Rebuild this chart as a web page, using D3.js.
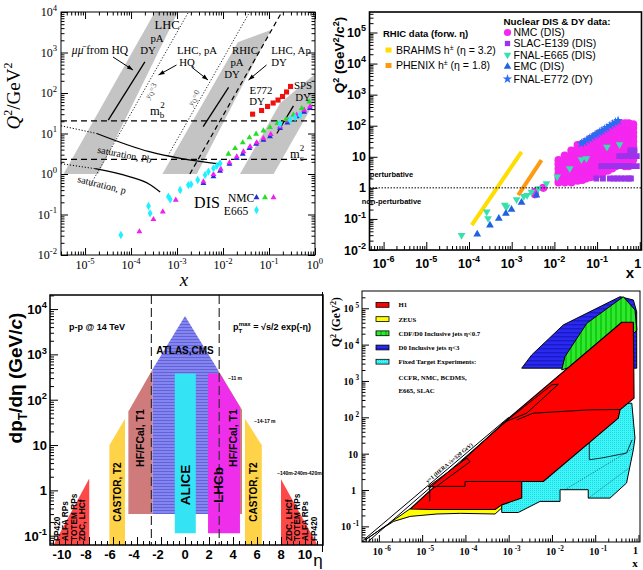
<!DOCTYPE html>
<html>
<head>
<meta charset="utf-8">
<script src="https://cdn.jsdelivr.net/npm/d3@7"></script>
<style>
  body { margin: 0; background: #fff; }
</style>
</head>
<body>
<div id="chart"></div>
<script>
// ---------- top-left: kinematic reach (x, Q2) ----------
const bandLHC = [[3.4e-6, 1], [1.95e-5, 1], [1.05e-3, 1e4], [3.3e-4, 1e4]];
const bandRHIC = [[4.8e-4, 1], [2.7e-3, 1], [0.11, 3600], [0.021, 1800]];
const bandSPS = [[0.0234, 1], [0.126, 1], [1.12, 80], [1.12, 330], [0.174, 56]];
const limitYQ3 = [[1.26e-5, 0.5], [1.78e-3, 1e4]];
const limitYQ0 = [[6.3e-4, 2.8], [0.038, 1e4]];
const limitApDY = [[1.9e-3, 1], [0.19, 1e4]];
const mb2 = 20.5, mc2 = 2.3;
const dyLHC = [[3.2e-5, 21.4], [2.0e-4, 590]];
const dyRHIC = [[3.7e-3, 14.8], [0.0132, 138]];
const dySPS = [[0.148, 10], [0.34, 48]];
const satPbDotted = [[3e-6, 15.5], [1.8e-5, 10]];
const satPb = [[1.8e-5, 10], [2.5e-4, 3.55], [1.26e-3, 2.4], [9e-3, 1.75]];
const satPDotted = [[3e-6, 1.8], [1.66e-5, 1.35]];
const satP = [[1.66e-5, 1.35], [9.5e-5, 0.85], [2.5e-4, 0.56], [4.3e-4, 0.36]];
const e772 = [[0.044, 30], [0.069, 37], [0.093, 46.5], [0.123, 56.6], [0.157, 67], [0.197, 82], [0.241, 106], [0.294, 145]];
const nmcBlue = [[0.00375, 0.589], [0.00619, 0.859], [0.00865, 1.19], [0.0138, 1.77], [0.0199, 2.44], [0.0269, 3.12], [0.0375, 4.31], [0.0524, 5.51], [0.0757, 6.92], [0.105, 8.36], [0.174, 13.4], [0.251, 18.5], [0.401, 26.1], [0.579, 34.0], [0.78, 41.8]];
const nmcMagenta = [[1.52e-4, 0.0377], [3.07e-4, 0.076], [4.9e-4, 0.117], [9.4e-4, 0.228], [0.00375, 0.647], [0.00619, 0.982], [0.00893, 1.33], [0.0138, 1.91], [0.0199, 2.68], [0.0278, 3.56], [0.0388, 4.73], [0.0542, 5.94], [0.0757, 7.6], [0.109, 9.53], [0.174, 14.8], [0.264, 20.7], [0.401, 28.6], [0.579, 38.0], [0.78, 46.0]];
const nmcGreen = [[0.0131, 3.12], [0.0183, 4.31], [0.0269, 5.94], [0.0375, 7.89], [0.0524, 9.73], [0.0757, 11.7], [0.105, 14.2], [0.152, 17.8], [0.235, 22.4], [0.34, 28.6], [0.515, 41.8], [0.75, 61]];
const e665Cyan = [[6.0e-5, 0.0312], [2.4e-4, 0.162], [2.6e-4, 0.107], [6.5e-4, 0.275], [7.1e-4, 0.237], [1.17e-3, 0.403], [1.77e-3, 0.535], [2.02e-3, 0.556], [2.82e-3, 0.711], [4.07e-3, 0.944], [4.82e-3, 1.14], [6.19e-3, 1.38], [7.31e-3, 1.58], [8.65e-3, 1.83], [0.174, 17.2], [0.287, 21.5], [0.369, 25.1], [0.474, 28.6]];

// ---------- top-right: nuclear DIS & DY data ----------
const brahmsLine = [[1.16e-4, 0.063], [1.7e-3, 14.4]];
const phenixLine = [[1.42e-3, 0.58], [4.99e-3, 7.8]];
const nmcX = [0.0035, 0.0055, 0.0125, 0.0175, 0.025, 0.035, 0.045, 0.055, 0.07, 0.09, 0.11, 0.14, 0.18, 0.225, 0.275, 0.35, 0.45, 0.55, 0.7];
const nmcQ2 = [
  [0.62, 0.75], [1.0],
  [1.5, 2.1, 2.9, 4.1, 5.7, 7.8],
  [1.5, 2.1, 2.9, 4.1, 5.7, 8, 11],
  [1.5, 2.1, 2.9, 4.1, 5.7, 8, 11, 16],
  [1.7, 2.4, 3.3, 4.6, 6.4, 9, 12.5, 17.5, 24],
  [1.8, 2.5, 3.5, 4.9, 6.8, 9.5, 13, 18.5, 26],
  [2.0, 2.8, 3.9, 5.5, 7.7, 11, 15, 21, 30],
  [2.2, 3.1, 4.3, 6, 8.4, 12, 16.5, 23, 32, 38],
  [2.5, 3.5, 4.9, 6.9, 9.6, 13.5, 19, 26, 37, 45],
  [2.8, 3.9, 5.5, 7.7, 11, 15, 21, 29, 41, 55],
  [3.2, 4.5, 6.3, 8.8, 12, 17, 24, 34, 47, 62],
  [3.6, 5, 7, 10, 14, 19.5, 27, 38, 53, 72],
  [4.2, 5.9, 8.2, 11.5, 16, 22, 31, 44, 62, 88],
  [5, 7, 9.8, 13.7, 19, 27, 38, 53, 74, 105],
  [6, 8.4, 11.8, 16.5, 23, 32, 45, 63, 88, 118],
  [5, 7, 10, 14, 20, 28, 39, 55, 77, 110, 120],
  [5, 7, 10, 14, 20, 28, 39, 55, 77, 110, 120],
  [8, 11, 16, 22, 31, 43, 60, 84, 110]
];
const e139 = [[0.096, 2], [0.137, 2], [0.2, 2], [0.25, 2], [0.3, 2], [0.37, 2], [0.45, 2], [0.55, 2], [0.62, 2],
  [0.125, 5], [0.15, 5], [0.18, 5], [0.22, 5], [0.27, 5], [0.33, 5], [0.4, 5], [0.48, 5], [0.58, 5], [0.7, 5], [0.85, 5],
  [0.33, 10.5], [0.4, 10.5], [0.48, 10.5], [0.58, 10.5], [0.7, 10.5], [0.85, 10.5], [0.6, 16], [0.75, 16]];
const e665 = [[6.7e-5, 0.030], [2.6e-4, 0.17], [2.8e-4, 0.104], [6.9e-4, 0.279], [7.6e-4, 0.245], [1.3e-3, 0.42], [1.92e-3, 0.54], [2.3e-3, 0.58], [2.9e-3, 0.74], [4.2e-3, 0.96], [6.5e-3, 1.39], [0.0116, 2.26], [0.0229, 4.2], [0.043, 8.2], [0.056, 8.8], [0.17, 20.8], [0.336, 24.9]];
const emc = [[1.56e-4, 0.032], [3.1e-4, 0.063], [5.0e-4, 0.104], [7.3e-4, 0.15], [9.9e-4, 0.20], [1.7e-3, 0.34], [3.8e-3, 0.58]];
const e772DY = [[0.043, 27], [0.05, 30], [0.058, 35], [0.067, 39], [0.077, 44], [0.089, 50], [0.1, 55], [0.115, 62], [0.13, 69], [0.15, 78], [0.17, 87], [0.2, 100], [0.23, 113], [0.27, 130], [0.31, 145]];

// ---------- bottom-left: LHC detector acceptance (eta, pT) ----------
const etaTicks = [-10, -8, -6, -4, -2, 0, 2, 4, 6, 8, 10];
const atlasCms = [[-2.7, 0.3], [-2.7, 470], [0, 7000], [2.75, 450], [2.75, 0.3]];
const hfLeft = [[-4.72, 0.3], [-4.72, 55], [-2.7, 470], [-2.7, 0.3]];
const hfRight = [[2.75, 0.3], [2.75, 450], [4.75, 60], [4.75, 0.3]];
const alice = [[-0.85, 0.113], [-0.85, 380], [0.9, 380], [0.9, 0.113]];
const lhcb = [[1.92, 0.113], [1.92, 380], [2.9, 380], [4.58, 68], [4.58, 0.113]];
const castorLeft = [[-6.3, 0.05], [-6.3, 9.9], [-5.0, 38], [-5.0, 0.05]];
const castorRight = [[5.0, 0.05], [5.0, 38], [6.4, 9.9], [6.4, 0.05]];
const fwdLeft = [[-11.15, 0.05], [-7.98, 1.83], [-7.98, 0.05]];
const fwdRight = [[8.0, 0.05], [8.0, 1.75], [11.25, 0.05]];
const trackerEdges = [-2.8, 2.85];

// ---------- bottom-right: HERA / Tevatron / fixed target reach ----------
const d0Blue = [[2.0e-3, 2250], [3.4e-3, 5200], [0.0183, 34800], [0.374, 2.08e5], [0.76, 1.69e5], [0.91, 80000], [0.91, 2250]];
const cdfGreen = [[0.0168, 2020], [0.020, 4680], [0.064, 38700], [0.446, 2.08e5], [0.83, 9.0e4], [0.92, 25000], [0.76, 20000], [0.05, 3000]];
const zeusYellow = [[4.8e-7, 0.042], [5.3e-6, 0.306], [1.4e-5, 0.486], [9.0e-4, 0.54], [6.9e-4, 0.32], [4.85e-4, 0.219], [7.6e-5, 0.228], [2.2e-5, 0.219], [5.3e-6, 0.188], [2.2e-6, 0.137], [1.07e-6, 0.081]];
const zeusSliver = [[9.0e-4, 60], [1.54e-3, 80], [1.1e-3, 82]];
const fixedTarget = [[6.9e-4, 0.241], [1.67e-3, 0.241], [5.3e-3, 0.486], [0.0154, 0.486], [0.0154, 1.02], [0.069, 1.02], [0.069, 0.60], [0.22, 0.60], [0.53, 1.56], [0.76, 12.8], [0.83, 26.9], [0.70, 245], [0.129, 230], [6.9e-4, 0.74]];
const fixedInner = [[0.073, 36.8], [0.073, 6.8], [0.141, 7.6], [0.53, 10.4], [0.71, 24]];
const h1Red = [[5.3e-6, 0.30], [9.0e-4, 85], [0.41, 41200], [0.76, 41200], [0.79, 336], [0.374, 161], [0.342, 95], [6.3e-3, 1.72], [2.0e-3, 1.72], [2.0e-3, 0.60], [6.9e-4, 0.39], [4.85e-4, 0.29], [1.5e-5, 0.29]];
const h1Inner = [[1.54e-3, 85], [3.7e-3, 130], [0.076, 161], [0.374, 164]];
const h1Sliver = [[8.3e-4, 75], [9.9e-3, 782], [0.0141, 817], [2.6e-3, 130]];
const h1Step = [[1.5e-5, 0.49], [1.5e-5, 1.26], [9.8e-5, 1.26], [9.8e-5, 1.72], [6.3e-3, 1.72]];
const h1Small = [[1.38e-5, 1.23], [1.08e-4, 7.6], [1.28e-4, 6.0], [2.1e-5, 1.23]];
const heraLimitA = [[4.0e-7, 0.038], [1.0e-3, 100]];
const heraLimitB = [[5.6e-7, 0.038], [1.0e-3, 88]];

const SERIF = '"Liberation Serif", "DejaVu Serif", serif';
const SANS = '"Liberation Sans", Arial, sans-serif';

const svg = d3.select("#chart").append("svg")
  .attr("width", 643).attr("height", 570)
  .attr("viewBox", [0, 0, 643, 570])
  .style("display", "block");
const defs = svg.append("defs");

function clipRect(id, b) {
  defs.append("clipPath").attr("id", id).append("rect")
    .attr("x", b.l).attr("y", b.t).attr("width", b.r - b.l).attr("height", b.b - b.t);
}

function logValues(lo, hi) {
  let major = [], minor = [];
  for (let e = Math.floor(Math.log10(lo)); e <= Math.ceil(Math.log10(hi)); e++) {
    for (let m = 1; m < 10; m++) {
      const v = m * Math.pow(10, e);
      if (v < lo * 0.999 || v > hi * 1.001) continue;
      (m === 1 ? major : minor).push(v);
    }
  }
  return {major, minor};
}

function ticksOn(g, scale, side, pos, values, len) {
  const ax = side === "bottom" ? d3.axisBottom(scale) : side === "top" ? d3.axisTop(scale)
    : side === "left" ? d3.axisLeft(scale) : d3.axisRight(scale);
  ax.tickValues(values).tickSize(len).tickFormat("");
  const t = (side === "bottom" || side === "top") ? `translate(0,${pos})` : `translate(${pos},0)`;
  const a = g.append("g").attr("transform", t).call(ax);
  a.select(".domain").remove();
  a.selectAll(".tick line").attr("stroke", "#000");
  return a;
}

function powText(g, x, y, exp, o) {
  const t = g.append("text").attr("x", x).attr("y", y)
    .attr("text-anchor", o.anchor || "middle")
    .attr("font-family", o.family).attr("font-size", o.size)
    .attr("font-weight", o.weight || "normal");
  if (exp === null) { t.text(o.plain); return t; }
  t.append("tspan").text("10");
  t.append("tspan").attr("dx", o.gap || 0).attr("dy", -o.size * 0.45)
    .attr("font-size", o.size * 0.72).text(exp);
  return t;
}

function txt(g, x, y, s, o) {
  const t = g.append("text").attr("x", x).attr("y", y)
    .attr("text-anchor", o.anchor || "middle")
    .attr("font-family", o.family).attr("font-size", o.size)
    .attr("font-weight", o.weight || "normal")
    .attr("fill", o.color || "#000")
    .text(s);
  if (o.rotate) t.attr("transform", `rotate(${o.rotate},${x},${y})`);
  if (o.italic) t.attr("font-style", "italic");
  return t;
}

function arrow(g, x0, y0, x1, y1) {
  g.append("line").attr("x1", x0).attr("y1", y0).attr("x2", x1).attr("y2", y1)
    .attr("stroke", "#000").attr("stroke-width", 1);
  const a = Math.atan2(y1 - y0, x1 - x0), L = 6, w = 2.2;
  const p = [[x1, y1],
    [x1 - L * Math.cos(a) + w * Math.sin(a), y1 - L * Math.sin(a) - w * Math.cos(a)],
    [x1 - L * Math.cos(a) - w * Math.sin(a), y1 - L * Math.sin(a) + w * Math.cos(a)]];
  g.append("path").attr("d", d3.line()(p) + "Z").attr("fill", "#000");
}

// =============== panel 1 ===============
(function panel1() {
  const b = {l: 61, r: 315, t: 12, b: 255};
  const x = d3.scaleLog().domain([3e-6, 1]).range([b.l, b.r]);
  const y = d3.scaleLog().domain([1e-2, 1e4]).range([b.b, b.t]);
  clipRect("c1", b);
  const g = svg.append("g");
  const gc = g.append("g").attr("clip-path", "url(#c1)");
  const line = d3.line().x(d => x(d[0])).y(d => y(d[1]));
  const curve = d3.line().x(d => x(d[0])).y(d => y(d[1])).curve(d3.curveMonotoneX);

  [bandLHC, bandRHIC, bandSPS].forEach(p =>
    gc.append("path").attr("d", line(p) + "Z").attr("fill", "#c4c4c4"));

  [mb2, mc2].forEach(v => gc.append("line")
    .attr("x1", b.l).attr("x2", b.r).attr("y1", y(v)).attr("y2", y(v))
    .attr("stroke", "#000").attr("stroke-width", 1.2).attr("stroke-dasharray", "6,4"));

  [limitYQ3, limitYQ0].forEach(p => gc.append("path").attr("d", line(p))
    .attr("fill", "none").attr("stroke", "#222").attr("stroke-width", 1).attr("stroke-dasharray", "1.2,1.8"));
  gc.append("path").attr("d", line(limitApDY)).attr("fill", "none")
    .attr("stroke", "#000").attr("stroke-width", 1.2).attr("stroke-dasharray", "5,3.5");

  [dyLHC, dyRHIC, dySPS].forEach(p => gc.append("path").attr("d", line(p))
    .attr("fill", "none").attr("stroke", "#000").attr("stroke-width", 1.3));

  [satPbDotted, satPDotted].forEach(p => gc.append("path").attr("d", line(p))
    .attr("fill", "none").attr("stroke", "#000").attr("stroke-width", 1).attr("stroke-dasharray", "1.2,1.8"));
  [satPb, satP].forEach(p => gc.append("path").attr("d", curve(p))
    .attr("fill", "none").attr("stroke", "#000").attr("stroke-width", 1.3));

  const sym = (data, type, size, color, rot) => gc.selectAll(null).data(data).enter().append("path")
    .attr("d", d3.symbol().type(type).size(size))
    .attr("transform", d => `translate(${x(d[0])},${y(d[1])})` + (rot ? ` rotate(${rot})` : ""))
    .attr("fill", color);
  sym(e772, d3.symbolSquare, 26, "#ee1111");
  sym(nmcBlue, d3.symbolTriangle, 15, "#2030d8");
  sym(nmcMagenta, d3.symbolTriangle, 15, "#f020f0");
  sym(nmcGreen, d3.symbolTriangle, 15, "#22e022");
  sym(e665Cyan, d3.symbolDiamond, 20, "#20f0ff");

  // legend markers
  const leg = [[256.5, 197.5, "#2030d8"], [265, 197.5, "#22e022"], [273.5, 197.5, "#f020f0"]];
  leg.forEach(l => g.append("path").attr("d", d3.symbol().type(d3.symbolTriangle).size(15)())
    .attr("transform", `translate(${l[0]},${l[1]})`).attr("fill", l[2]));
  g.append("path").attr("d", d3.symbol().type(d3.symbolDiamond).size(20)())
    .attr("transform", "translate(256.5,210)").attr("fill", "#20f0ff");

  // annotations
  const labels = [["LHC", 167, 29, 12.5], ["pA", 157, 41.5, 10.8], ["DY", 148, 54, 10.8],
    ["LHC, pA", 197, 54, 10.8], ["HQ", 187, 66, 10.8], ["RHIC", 245, 54, 10.8], ["pA", 237, 66, 10.8],
    ["DY", 232, 78, 10.8], ["LHC, Ap", 291, 54, 10.8], ["DY", 279, 66, 10.8],
    ["SPS", 303, 88.5, 10.8], ["DY", 303, 100.5, 10.8], ["E772", 261, 93.5, 10.8], ["DY", 257, 105, 10.8],
    ["DIS", 207, 208, 16], ["NMC", 241, 201.5, 11.5], ["E665", 236, 215, 11.5]];
  labels.forEach(l => txt(g, l[1], l[2], l[0], {family: SERIF, size: l[3]}));
  const mu = g.append("text").attr("x", 100).attr("y", 54).attr("text-anchor", "middle")
    .attr("font-family", SERIF).attr("font-size", 11.5);
  mu.append("tspan").attr("font-style", "italic").text("\u03bc\u03bc\u0304");
  mu.append("tspan").text(" from HQ");
  const mlab = (xx, yy, sub) => {
    const t = g.append("text").attr("x", xx).attr("y", yy).attr("font-family", SERIF).attr("font-size", 12.5);
    t.append("tspan").text("m");
    t.append("tspan").attr("dy", 3).attr("font-size", 9).text(sub);
    t.append("tspan").attr("dx", -4).attr("dy", -10).attr("font-size", 9).text("2");
  };
  mlab(150, 115, "b");
  mlab(290, 158, "c");
  const yq = (xx, yy, v) => {
    const t = g.append("text").attr("x", xx).attr("y", yy).attr("text-anchor", "middle")
      .attr("font-family", SERIF).attr("font-size", 8).attr("fill", "#444")
      .attr("transform", `rotate(-62,${xx},${yy})`);
    t.append("tspan").attr("font-style", "italic").text("y");
    t.append("tspan").attr("dy", 1.5).attr("font-size", 6).text("Q");
    t.append("tspan").attr("dy", -1.5).text("=" + v);
  };
  yq(153, 92, 3);
  yq(196, 99, 0);
  txt(g, 124, 158, "saturation, Pb", {family: SERIF, size: 10, rotate: 11});
  txt(g, 101, 188, "saturation, p", {family: SERIF, size: 10, rotate: 14});
  arrow(g, 113, 57, 133, 70);
  arrow(g, 176.5, 65, 158.5, 75);
  arrow(g, 191.5, 67, 208, 80);
  arrow(g, 266.5, 65, 248.5, 80);

  // frame and ticks
  g.append("rect").attr("x", b.l).attr("y", b.t).attr("width", b.r - b.l).attr("height", b.b - b.t)
    .attr("fill", "none").attr("stroke", "#000").attr("stroke-width", 1);
  const xv = logValues(3e-6, 1), yv = logValues(1e-2, 1e4);
  [["bottom", b.b], ["top", b.t]].forEach(s => {
    ticksOn(g, x, s[0], s[1], xv.major, -7);
    ticksOn(g, x, s[0], s[1], xv.minor, -3.5);
  });
  [["left", b.l], ["right", b.r]].forEach(s => {
    ticksOn(g, y, s[0], s[1], yv.major, -7);
    ticksOn(g, y, s[0], s[1], yv.minor, -3.5);
  });
  xv.major.forEach(v => powText(g, x(v), 269, Math.round(Math.log10(v)), {family: SERIF, size: 12}));
  yv.major.forEach(v => powText(g, 57, y(v) + 4, Math.round(Math.log10(v)), {family: SERIF, size: 12, anchor: "end"}));
  const yl = g.append("text").attr("transform", "translate(20,96) rotate(-90)").attr("text-anchor", "middle")
    .attr("font-family", SERIF).attr("font-size", 19);
  yl.append("tspan").attr("font-style", "italic").text("Q");
  yl.append("tspan").attr("dy", -8).attr("font-size", 12).text("2");
  yl.append("tspan").attr("dy", 8).text("/GeV");
  yl.append("tspan").attr("dy", -8).attr("font-size", 12).text("2");
  txt(g, 184, 286, "x", {family: SERIF, size: 19, italic: true});
})();

// =============== panel 2 ===============
(function panel2() {
  const b = {l: 369.5, r: 641.5, t: 12, b: 250};
  const x = d3.scaleLog().domain([Math.pow(10, -6.33), Math.pow(10, 0.04)]).range([b.l, b.r]);
  const y = d3.scaleLog().domain([1e-2, Math.pow(10, 5.66)]).range([b.b, b.t]);
  clipRect("c2", b);
  const g = svg.append("g");
  const gc = g.append("g").attr("clip-path", "url(#c2)");
  const line = d3.line().x(d => x(d[0])).y(d => y(d[1]));

  gc.append("path").attr("d", line(brahmsLine)).attr("stroke", "#ffdd00").attr("stroke-width", 4).attr("fill", "none");
  gc.append("path").attr("d", line(phenixLine)).attr("stroke", "#ff9a10").attr("stroke-width", 4).attr("fill", "none");

  const nmcPts = [];
  nmcX.forEach((xv, i) => nmcQ2[i].forEach(q => nmcPts.push([xv, q])));
  const sym = (data, type, size, color, rot) => gc.selectAll(null).data(data).enter().append("path")
    .attr("d", d3.symbol().type(type).size(size))
    .attr("transform", d => `translate(${x(d[0])},${y(d[1])})` + (rot ? ` rotate(${rot})` : ""))
    .attr("fill", color);
  sym(nmcPts, d3.symbolCircle, 52, "#f526f0");
  sym(e139, d3.symbolSquare, 34, "#9a33ea");
  sym(e665, d3.symbolTriangle, 26, "#38e0ae", 180);
  sym(emc, d3.symbolTriangle, 26, "#1f63e0");
  sym(e772DY, d3.symbolStar, 30, "#2b6cf0");

  g.append("line").attr("x1", b.l).attr("x2", b.r).attr("y1", y(1)).attr("y2", y(1))
    .attr("stroke", "#000").attr("stroke-width", 1).attr("stroke-dasharray", "1.5,1.5");
  txt(g, 391.5, 177, "perturbative", {family: SANS, size: 7.5, weight: "bold"});
  txt(g, 391.5, 204, "non-perturbative", {family: SANS, size: 7.5, weight: "bold"});

  // legends
  txt(g, 383, 37, "RHIC data (forw. \u03b7)", {family: SANS, size: 9.5, weight: "bold", anchor: "start"});
  const rl = [["BRAHMS", "3.2", "#ffdd00", 53.5], ["PHENIX", "1.8", "#ff9a10", 69]];
  rl.forEach(r => {
    g.append("rect").attr("x", 385.5).attr("y", r[3] - 6).attr("width", 6).attr("height", 5).attr("fill", r[2]);
    const t = g.append("text").attr("x", 396).attr("y", r[3]).attr("font-family", SANS).attr("font-size", 10.5);
    t.append("tspan").text(r[0] + " h");
    t.append("tspan").attr("dy", -4).attr("font-size", 7).text("\u00b1");
    t.append("tspan").attr("dy", 4).text(" (\u03b7 = " + r[1] + ")");
  });
  txt(g, 503.5, 24.5, "Nuclear DIS & DY data:", {family: SANS, size: 9.8, weight: "bold", anchor: "start"});
  const nl = [["NMC (DIS)", d3.symbolCircle, 40, "#f526f0", 0], ["SLAC-E139 (DIS)", d3.symbolSquare, 28, "#9a33ea", 0],
    ["FNAL-E665 (DIS)", d3.symbolTriangle, 24, "#38e0ae", 180], ["EMC (DIS)", d3.symbolTriangle, 24, "#1f63e0", 0],
    ["FNAL-E772 (DY)", d3.symbolStar, 28, "#2b6cf0", 0]];
  nl.forEach((r, i) => {
    const yy = [32.5, 43.5, 55, 66.5, 79][i];
    g.append("path").attr("d", d3.symbol().type(r[1]).size(r[2])())
      .attr("transform", `translate(507.5,${yy}) rotate(${r[4]})`).attr("fill", r[3]);
    txt(g, 513.5, yy + 3.8, r[0], {family: SANS, size: 10.5, anchor: "start"});
  });

  g.append("rect").attr("x", b.l).attr("y", b.t).attr("width", b.r - b.l).attr("height", b.b - b.t)
    .attr("fill", "none").attr("stroke", "#000").attr("stroke-width", 1.6);
  const xv = logValues(Math.pow(10, -6.33), 1.09), yv = logValues(1e-2, Math.pow(10, 5.66));
  ticksOn(g, x, "bottom", b.b, xv.major, -8);
  ticksOn(g, x, "bottom", b.b, xv.minor, -4);
  ticksOn(g, y, "left", b.l, yv.major, -8);
  ticksOn(g, y, "left", b.l, yv.minor, -4);
  const lab = {family: SANS, size: 12.5, weight: "bold"};
  xv.major.forEach(v => {
    const e = Math.round(Math.log10(v));
    if (e === 0) powText(g, x(v) - 2, 268, null, Object.assign({plain: "1"}, lab));
    else powText(g, x(v), 268, e, lab);
  });
  yv.major.forEach(v => {
    const e = Math.round(Math.log10(v));
    const o = Object.assign({anchor: "end"}, lab);
    if (e === 0) powText(g, 366, y(v) + 4.5, null, Object.assign({plain: "1"}, o));
    else if (e === 1) powText(g, 366, y(v) + 4.5, null, Object.assign({plain: "10"}, o));
    else powText(g, 366, y(v) + 4.5, e, o);
  });
  const yl = g.append("text").attr("transform", "translate(344,55) rotate(-90)").attr("text-anchor", "middle")
    .attr("font-family", SANS).attr("font-size", 13.5).attr("font-weight", "bold");
  yl.append("tspan").text("Q");
  yl.append("tspan").attr("dy", -5).attr("font-size", 9).text("2");
  yl.append("tspan").attr("dy", 5).text(" (GeV");
  yl.append("tspan").attr("dy", -5).attr("font-size", 9).text("2");
  yl.append("tspan").attr("dy", 5).text("/c");
  yl.append("tspan").attr("dy", -5).attr("font-size", 9).text("2");
  yl.append("tspan").attr("dy", 5).text(")");
  txt(g, 630, 278, "x", {family: SANS, size: 15, weight: "bold"});
})();

// =============== panel 3 ===============
(function panel3() {
  const b = {l: 50, r: 323, t: 295, b: 545};
  const x = d3.scaleLinear().domain([-11.25, 11.5]).range([b.l, b.r]);
  const y = d3.scaleLog().domain([Math.pow(10, -1.205), Math.pow(10, 4.31)]).range([b.b, b.t]);
  clipRect("c3", b);
  const pat = defs.append("pattern").attr("id", "hatchBlue").attr("patternUnits", "userSpaceOnUse")
    .attr("width", 6).attr("height", 3);
  pat.append("rect").attr("width", 6).attr("height", 3).attr("fill", "#8585ee");
  pat.append("rect").attr("width", 6).attr("height", 1).attr("fill", "#6262dc");
  const g = svg.append("g");
  const gc = g.append("g").attr("clip-path", "url(#c3)");
  const line = d3.line().x(d => x(d[0])).y(d => y(d[1]));
  const poly = (p, fill) => gc.append("path").attr("d", line(p) + "Z").attr("fill", fill);

  poly(hfLeft, "#cf7b7b");
  poly(hfRight, "#cf7b7b");
  poly(atlasCms, "url(#hatchBlue)");
  poly(alice, "#35e4f4");
  poly(lhcb, "#ee2eea");
  poly(castorLeft, "#ffd347");
  poly(castorRight, "#ffd347");
  poly(fwdLeft, "#ff4848");
  poly(fwdRight, "#ff4848");

  trackerEdges.forEach(v => gc.append("line").attr("x1", x(v)).attr("x2", x(v)).attr("y1", b.t).attr("y2", b.b)
    .attr("stroke", "#333").attr("stroke-width", 1.2).attr("stroke-dasharray", "9,4"));

  const B = {family: SANS, weight: "bold"};
  txt(g, 97, 330, "p-p @ 14 TeV", Object.assign({size: 9}, B));
  const f = g.append("text").attr("x", 233).attr("y", 330).attr("font-family", SANS).attr("font-size", 9).attr("font-weight", "bold");
  f.append("tspan").text("p");
  f.append("tspan").attr("dy", 2.5).attr("font-size", 6).text("T");
  f.append("tspan").attr("dx", -3.5).attr("dy", -7).attr("font-size", 6).text("max");
  f.append("tspan").attr("dy", 4.5).text(" = \u221as/2 exp(-\u03b7)");
  txt(g, 185, 354, "ATLAS,CMS", Object.assign({size: 10}, B));
  txt(g, 228, 380, "~11 m", Object.assign({size: 5, anchor: "start"}, B));
  txt(g, 254, 423, "~14-17 m", Object.assign({size: 5, anchor: "start"}, B));
  txt(g, 277, 475, "~140m-240m-420m", Object.assign({size: 5, anchor: "start"}, B));
  const vt = (xx, yy, s, size, anchor) => txt(g, xx, yy, s, Object.assign({size: size, rotate: -90, anchor: anchor || "middle"}, B));
  vt(144, 438, "HF/FCal, T1", 10.5);
  vt(237, 438, "HF/FCal, T1", 10.5);
  vt(120.5, 492, "CASTOR, T2", 10);
  vt(257, 492, "CASTOR, T2", 10);
  vt(190, 485, "ALICE", 13.5);
  vt(223, 485, "LHCb", 13.5);
  [["FP420", 59.5], ["ALFA RPs", 68], ["TOTEM RPs", 76.5], ["ZDC, LHCf", 85]].forEach(l => vt(l[1], 541, l[0], 8.3, "start"));
  [["ZDC, LHCf", 291.5], ["TOTEM RPs", 300], ["ALFA RPs", 307.5], ["FP420", 316.5]].forEach(l => vt(l[1], 541, l[0], 8.3, "start"));

  g.append("rect").attr("x", b.l).attr("y", b.t).attr("width", b.r - b.l).attr("height", b.b - b.t)
    .attr("fill", "none").attr("stroke", "#000").attr("stroke-width", 1.5);
  const yv = logValues(Math.pow(10, -1.205), Math.pow(10, 4.31));
  ticksOn(g, y, "left", b.l, yv.major, -8);
  ticksOn(g, y, "left", b.l, yv.minor, -4);
  const minorEta = d3.range(-11, 11.5, 0.5).filter(v => v % 2 !== 0);
  ticksOn(g, x, "bottom", b.b, etaTicks, -8);
  ticksOn(g, x, "bottom", b.b, minorEta, -4);
  const lab = {family: SANS, size: 13, weight: "bold"};
  etaTicks.forEach(v => txt(g, x(v) - (v < 0 ? 3 : 0), 559, String(v), lab));
  yv.major.forEach(v => {
    const e = Math.round(Math.log10(v));
    const o = Object.assign({anchor: "end"}, lab);
    if (e === 0) powText(g, 47, y(v) + 5, null, Object.assign({plain: "1"}, o));
    else if (e === 1) powText(g, 47, y(v) + 5, null, Object.assign({plain: "10"}, o));
    else powText(g, 47, y(v) + 5, e, o);
  });
  const yl = g.append("text").attr("transform", "translate(22,378) rotate(-90)").attr("text-anchor", "middle")
    .attr("font-family", SANS).attr("font-size", 19).attr("font-weight", "bold");
  yl.append("tspan").text("dp");
  yl.append("tspan").attr("dy", 5).attr("font-size", 12).text("T");
  yl.append("tspan").attr("dy", -5).text("/d\u03b7 (GeV/");
  yl.append("tspan").attr("font-style", "italic").text("c");
  yl.append("tspan").text(")");
  txt(g, 318, 566, "\u03b7", {family: SANS, size: 17});
})();

// =============== panel 4 ===============
(function panel4() {
  const b = {l: 362, r: 640, t: 291, b: 542};
  const x = d3.scaleLog().domain([Math.pow(10, -6.39), Math.pow(10, 0.035)]).range([b.l, b.r]);
  const y = d3.scaleLog().domain([Math.pow(10, -1.43), Math.pow(10, 5.475)]).range([b.b, b.t]);
  clipRect("c4", b);
  const pg = defs.append("pattern").attr("id", "stripeGreen").attr("patternUnits", "userSpaceOnUse").attr("width", 5).attr("height", 5);
  pg.append("rect").attr("width", 5).attr("height", 5).attr("fill", "#2ee82e");
  pg.append("rect").attr("width", 2).attr("height", 5).attr("fill", "#14cc14");
  const pb = defs.append("pattern").attr("id", "stripeBlue").attr("patternUnits", "userSpaceOnUse").attr("width", 5).attr("height", 4);
  pb.append("rect").attr("width", 5).attr("height", 4).attr("fill", "#2a2aef");
  pb.append("rect").attr("width", 5).attr("height", 1.5).attr("fill", "#1a1acc");
  const pc = defs.append("pattern").attr("id", "dotCyan").attr("patternUnits", "userSpaceOnUse").attr("width", 2).attr("height", 2);
  pc.append("rect").attr("width", 2).attr("height", 2).attr("fill", "#3ff6f6");
  pc.append("rect").attr("width", 1).attr("height", 1).attr("fill", "#20d6e6");
  const g = svg.append("g");
  const gc = g.append("g").attr("clip-path", "url(#c4)");
  const line = d3.line().x(d => x(d[0])).y(d => y(d[1]));
  const poly = (p, fill, w) => gc.append("path").attr("d", line(p) + "Z").attr("fill", fill)
    .attr("stroke", "#000").attr("stroke-width", w || 1).attr("stroke-linejoin", "round");
  const path = (p, w, dash) => gc.append("path").attr("d", line(p)).attr("fill", "none")
    .attr("stroke", "#000").attr("stroke-width", w || 1).attr("stroke-dasharray", dash || null);

  poly(d0Blue, "url(#stripeBlue)");
  poly(cdfGreen, "url(#stripeGreen)");
  poly(zeusYellow, "#ffff00");
  poly(zeusSliver, "#ffff00", 0.6);
  poly(fixedTarget, "url(#dotCyan)");
  path(fixedInner, 0.8);
  path([[0.02, 1.02], [0.76, 14]], 0.6, "1,1.5");
  path([[0.07, 0.6], [0.6, 4]], 0.6, "1,1.5");
  poly(h1Red, "#ff0000", 1.1);
  path(h1Inner, 1);
  poly(h1Sliver, "#ff0000", 1);
  path(h1Step, 1);
  poly(h1Small, "#ff0000", 1);
  path(heraLimitA, 1);
  path(heraLimitB, 1);
  const hx = x(4.5e-5), hy = y(4.5e-5 * 1e5) - 2;
  const ang = Math.atan2(y(1e-3) - y(1e-6), x(1e-3) - x(1e-6)) * 180 / Math.PI;
  g.append("text").attr("x", hx).attr("y", hy).attr("font-family", SERIF).attr("font-weight", "bold")
    .attr("font-size", 5.5).attr("text-anchor", "middle")
    .attr("transform", `rotate(${ang},${hx},${hy})`).text("y=1 (HERA \u221as=320 GeV)");

  // legend
  const leg = [["H1", "#ff0000"], ["ZEUS", "#ffff00"], ["CDF/D0   Inclusive jets \u03b7<0.7", "url(#stripeGreen)"],
    ["D0  Inclusive jets \u03b7<3", "url(#stripeBlue)"], ["Fixed Target Experiments:", "url(#dotCyan)"]];
  leg.forEach((l, i) => {
    const yy = 302.5 + i * 14.2;
    g.append("rect").attr("x", 376).attr("y", yy).attr("width", 13).attr("height", 4.8)
      .attr("fill", l[1]).attr("stroke", "#000").attr("stroke-width", 0.8);
    txt(g, 398.5, yy + 4.8, l[0], {family: SERIF, size: 6.8, weight: "bold", anchor: "start"});
  });
  txt(g, 398.5, 379.5, "CCFR, NMC, BCDMS,", {family: SERIF, size: 6.8, weight: "bold", anchor: "start"});
  txt(g, 398.5, 393, "E665, SLAC", {family: SERIF, size: 6.8, weight: "bold", anchor: "start"});

  g.append("rect").attr("x", b.l).attr("y", b.t).attr("width", b.r - b.l).attr("height", b.b - b.t)
    .attr("fill", "none").attr("stroke", "#000").attr("stroke-width", 1);
  const xv = logValues(Math.pow(10, -6.39), Math.pow(10, 0.035)), yv = logValues(Math.pow(10, -1.43), Math.pow(10, 5.475));
  ticksOn(g, x, "bottom", b.b, xv.major, -7);
  ticksOn(g, x, "bottom", b.b, xv.minor, -3.5);
  ticksOn(g, y, "left", b.l, yv.major, -7);
  ticksOn(g, y, "left", b.l, yv.minor, -3.5);
  const lab = {family: SERIF, size: 10, weight: "bold", gap: 2};
  xv.major.forEach(v => {
    const e = Math.round(Math.log10(v));
    if (e === 0) powText(g, x(v) - 3, 554, null, Object.assign({plain: "1"}, lab));
    else powText(g, x(v) + 3, 555, e, lab);
  });
  yv.major.forEach(v => {
    const e = Math.round(Math.log10(v));
    const o = Object.assign({anchor: "end"}, lab);
    if (e === 0) powText(g, 356, y(v) + 4, null, Object.assign({plain: "1"}, o));
    else if (e === 1) powText(g, 358, y(v) + 4, null, Object.assign({plain: "10"}, o));
    else powText(g, 359, y(v) + 4, e, o);
  });
  const yl = g.append("text").attr("transform", "translate(340,322) rotate(-90)").attr("text-anchor", "middle")
    .attr("font-family", SERIF).attr("font-size", 11.5).attr("font-weight", "bold");
  yl.append("tspan").text("Q");
  yl.append("tspan").attr("dy", -4).attr("font-size", 8).text("2");
  yl.append("tspan").attr("dy", 4).text(" (GeV");
  yl.append("tspan").attr("dy", -4).attr("font-size", 8).text("2");
  yl.append("tspan").attr("dy", 4).text(")");
  txt(g, 635, 567, "x", {family: SERIF, size: 11, weight: "bold"});
  // edge of the neighbouring frame
  g.append("line").attr("x1", 322.5).attr("x2", 322.5).attr("y1", 292).attr("y2", 552).attr("stroke", "#000");
})();
</script>
</body>
</html>
